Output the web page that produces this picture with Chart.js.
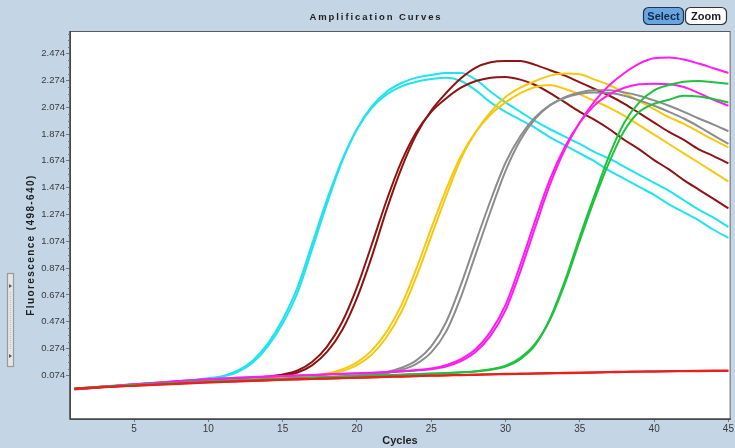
<!DOCTYPE html>
<html>
<head>
<meta charset="utf-8">
<script src="https://cdn.jsdelivr.net/npm/chart.js@4.4.1/dist/chart.umd.min.js"></script>
<style>
  html, body { margin: 0; padding: 0; background: #c4d5e6; }
  canvas { display: block; }
</style>
</head>
<body>
<canvas id="amp" width="735" height="448"></canvas>
<script>
// cycle numbers and axis ticks
var cycles = [1,2,3,4,5,6,7,8,9,10,11,12,13,14,15,16,17,18,19,20,21,22,23,24,25,
  26,27,28,29,30,31,32,33,34,35,36,37,38,39,40,41,42,43,44,45];
var xTickValues = [5,10,15,20,25,30,35,40,45];
var yTickValues = [0.074,0.274,0.474,0.674,0.874,1.074,1.274,1.474,1.674,1.874,2.074,2.274,2.474];
var yTickLabels = ['0.074','0.274','0.474','0.674','0.874','1.074','1.274','1.474','1.674','1.874','2.074','2.274','2.474'];

// fluorescence per cycle, two replicates per sample
var cyanA = [-0.025,-0.017,-0.009,-0.002,0.005,0.012,0.020,0.028,0.037,0.048,
  0.065,0.100,0.170,0.290,0.460,0.690,1.020,1.360,1.670,1.910,
  2.080,2.190,2.255,2.295,2.315,2.330,2.330,2.280,2.190,2.110,
  2.040,1.970,1.910,1.855,1.800,1.740,1.690,1.630,1.570,1.510,
  1.450,1.380,1.310,1.250,1.180];
var cyanB = [-0.025,-0.016,-0.008,0.000,0.007,0.014,0.022,0.030,0.040,0.052,
  0.070,0.110,0.185,0.310,0.490,0.730,1.060,1.390,1.680,1.910,
  2.070,2.170,2.230,2.265,2.285,2.295,2.270,2.200,2.110,2.040,
  1.980,1.920,1.850,1.790,1.730,1.670,1.600,1.540,1.480,1.420,
  1.350,1.290,1.230,1.160,1.100];
var maroonA = [-0.028,-0.020,-0.012,-0.005,0.002,0.008,0.014,0.020,0.026,0.032,
  0.038,0.044,0.051,0.060,0.072,0.095,0.150,0.250,0.410,0.650,
  0.960,1.310,1.620,1.870,2.050,2.180,2.290,2.370,2.410,2.420,
  2.420,2.390,2.350,2.310,2.260,2.210,2.160,2.100,2.030,1.960,
  1.890,1.830,1.760,1.710,1.655];
var maroonB = [-0.026,-0.018,-0.010,-0.003,0.004,0.010,0.016,0.022,0.028,0.034,
  0.040,0.047,0.055,0.065,0.080,0.110,0.175,0.290,0.470,0.730,
  1.050,1.380,1.670,1.890,2.040,2.140,2.220,2.270,2.295,2.300,
  2.280,2.240,2.180,2.110,2.040,1.980,1.910,1.830,1.760,1.680,
  1.610,1.530,1.460,1.390,1.320];
var goldA = [-0.025,-0.018,-0.011,-0.004,0.002,0.008,0.013,0.018,0.023,0.028,
  0.033,0.038,0.043,0.048,0.054,0.060,0.068,0.080,0.105,0.150,
  0.230,0.360,0.550,0.810,1.110,1.410,1.690,1.890,2.040,2.150,
  2.220,2.270,2.310,2.325,2.320,2.280,2.240,2.180,2.120,2.060,
  2.000,1.950,1.890,1.830,1.775];
var goldB = [-0.024,-0.017,-0.010,-0.003,0.003,0.009,0.014,0.019,0.024,0.029,
  0.034,0.039,0.044,0.050,0.056,0.063,0.072,0.088,0.118,0.170,
  0.260,0.400,0.600,0.870,1.170,1.460,1.710,1.890,2.020,2.110,
  2.180,2.225,2.240,2.210,2.170,2.120,2.070,2.010,1.940,1.870,
  1.800,1.730,1.660,1.590,1.520];
var grayA = [-0.026,-0.019,-0.012,-0.005,0.001,0.007,0.012,0.017,0.022,0.027,
  0.032,0.036,0.040,0.044,0.048,0.052,0.056,0.060,0.065,0.070,
  0.077,0.090,0.115,0.160,0.245,0.400,0.660,0.980,1.300,1.600,
  1.830,1.990,2.090,2.150,2.185,2.200,2.200,2.185,2.160,2.125,
  2.085,2.040,1.990,1.945,1.895];
var grayB = [-0.025,-0.018,-0.011,-0.004,0.002,0.008,0.013,0.018,0.023,0.028,
  0.033,0.037,0.041,0.045,0.049,0.053,0.057,0.062,0.067,0.073,
  0.082,0.098,0.130,0.185,0.290,0.470,0.750,1.070,1.380,1.660,
  1.860,2.000,2.090,2.145,2.175,2.185,2.180,2.160,2.125,2.085,
  2.040,1.990,1.930,1.865,1.800];
var magentaA = [-0.032,-0.022,-0.012,-0.003,0.006,0.014,0.022,0.030,0.037,0.044,
  0.050,0.055,0.060,0.064,0.068,0.072,0.076,0.080,0.084,0.088,
  0.092,0.097,0.103,0.110,0.120,0.140,0.180,0.250,0.370,0.560,
  0.850,1.180,1.500,1.760,1.960,2.120,2.240,2.330,2.400,2.440,
  2.445,2.430,2.400,2.365,2.330];
var magentaB = [-0.030,-0.021,-0.011,-0.002,0.007,0.015,0.023,0.031,0.038,0.045,
  0.051,0.056,0.061,0.065,0.069,0.073,0.077,0.081,0.085,0.089,
  0.093,0.098,0.105,0.113,0.125,0.150,0.195,0.270,0.400,0.600,
  0.900,1.230,1.540,1.780,1.960,2.090,2.170,2.220,2.245,2.250,
  2.245,2.225,2.180,2.130,2.085];
var greenA = [-0.027,-0.020,-0.013,-0.006,0.000,0.006,0.011,0.016,0.021,0.026,
  0.030,0.034,0.038,0.042,0.046,0.050,0.054,0.058,0.062,0.066,
  0.070,0.074,0.078,0.082,0.086,0.090,0.095,0.102,0.115,0.140,
  0.195,0.300,0.500,0.780,1.110,1.420,1.720,1.960,2.110,2.200,
  2.240,2.265,2.270,2.260,2.250];
var greenB = [-0.026,-0.019,-0.012,-0.005,0.001,0.007,0.012,0.017,0.022,0.027,
  0.031,0.035,0.039,0.043,0.047,0.051,0.055,0.059,0.063,0.067,
  0.071,0.075,0.079,0.083,0.087,0.091,0.097,0.105,0.120,0.145,
  0.205,0.310,0.490,0.760,1.080,1.390,1.670,1.900,2.040,2.100,
  2.130,2.160,2.155,2.135,2.110];
var redA = [-0.028,-0.022,-0.016,-0.010,-0.005,0.000,0.005,0.010,0.015,0.020,
  0.024,0.028,0.032,0.036,0.040,0.043,0.046,0.049,0.052,0.055,
  0.058,0.061,0.064,0.067,0.070,0.072,0.075,0.077,0.080,0.082,
  0.084,0.086,0.088,0.090,0.092,0.094,0.096,0.098,0.100,0.101,
  0.103,0.104,0.105,0.106,0.107];
var redB = [-0.025,-0.019,-0.013,-0.008,-0.003,0.002,0.007,0.012,0.017,0.022,
  0.026,0.030,0.034,0.038,0.041,0.044,0.047,0.050,0.053,0.056,
  0.060,0.063,0.066,0.069,0.072,0.075,0.077,0.080,0.082,0.085,
  0.087,0.089,0.091,0.093,0.095,0.097,0.099,0.101,0.103,0.104,
  0.106,0.107,0.108,0.109,0.110];

var series = [
  [redA, '#e8211c'], [redB, '#e8211c'],
  [greenA, '#1fc23c'], [greenB, '#1fc23c'],
  [magentaA, '#ff1cf0'], [magentaB, '#ff1cf0'],
  [grayA, '#8c8c8c'], [grayB, '#8c8c8c'],
  [goldA, '#f7c80f'], [goldB, '#f7c80f'],
  [maroonA, '#8e1412'], [maroonB, '#8e1412'],
  [cyanA, '#1fe3ee'], [cyanB, '#1fe3ee']
];

var toPoints = function(values){
  return values.map(function(v, i){ return { x: cycles[i], y: v }; });
};

var datasets = series.map(function(s){
  return {
    data: toPoints(s[0]), borderColor: s[1], borderWidth: 2,
    pointRadius: 0, fill: false, cubicInterpolationMode: 'monotone'
  };
});

var roundRect = function(ctx, x, y, w, h, r){
  ctx.beginPath();
  ctx.moveTo(x + r, y);
  ctx.arcTo(x + w, y, x + w, y + h, r);
  ctx.arcTo(x + w, y + h, x, y + h, r);
  ctx.arcTo(x, y + h, x, y, r);
  ctx.arcTo(x, y, x + w, y, r);
  ctx.closePath();
};

var frame = {
  id: 'frame',
  beforeDraw: function(chart){
    var ctx = chart.ctx, a = chart.chartArea;
    ctx.save();
    ctx.fillStyle = '#c4d5e6';
    ctx.fillRect(0, 0, chart.width, chart.height);
    ctx.fillStyle = '#ffffff';
    ctx.fillRect(a.left, a.top, a.right - a.left, a.bottom - a.top);
    ctx.restore();
  },
  afterDraw: function(chart){
    var ctx = chart.ctx, a = chart.chartArea;
    var ys = chart.scales.y;
    ctx.save();
    // plot border
    ctx.strokeStyle = '#5a5a5a';
    ctx.lineWidth = 1;
    ctx.strokeRect(a.left + 0.5, a.top + 0.5, a.right - a.left - 1, a.bottom - a.top);
    ctx.strokeStyle = '#444';
    ctx.lineWidth = 1.5;
    ctx.beginPath();
    ctx.moveTo(a.left, a.top); ctx.lineTo(a.left, a.bottom); ctx.lineTo(a.right, a.bottom);
    ctx.stroke();

    // minor ticks on the y axis
    ctx.strokeStyle = '#777';
    ctx.lineWidth = 1;
    for (var i = 0; i < yTickValues.length; i++) {
      for (var k = 1; k < 4; k++) {
        var py = ys.getPixelForValue(yTickValues[i] + k * 0.05);
        if (py < a.top) continue;
        ctx.beginPath();
        ctx.moveTo(a.left - 2, Math.round(py) + 0.5);
        ctx.lineTo(a.left, Math.round(py) + 0.5);
        ctx.stroke();
      }
    }

    // title
    ctx.fillStyle = '#1e1e1e';
    ctx.font = 'bold 9.5px "Liberation Sans", Arial, sans-serif';
    ctx.letterSpacing = '1.9px';
    ctx.textAlign = 'center';
    ctx.textBaseline = 'middle';
    ctx.fillText('Amplification Curves', 376, 17);

    // y axis title
    ctx.save();
    ctx.translate(31, 245);
    ctx.rotate(-Math.PI / 2);
    ctx.font = 'bold 10px "Liberation Sans", Arial, sans-serif';
    ctx.letterSpacing = '1.4px';
    ctx.fillStyle = '#1e1e1e';
    ctx.fillText('Fluorescence (498-640)', 0, 0);
    ctx.restore();
    ctx.letterSpacing = '0px';

    // x axis title
    ctx.font = 'bold 11px "Liberation Sans Narrow", "Liberation Sans", Arial, sans-serif';
    ctx.fillStyle = '#1e1e1e';
    ctx.fillText('Cycles', 400, 441);

    // buttons
    roundRect(ctx, 643.5, 7.5, 40, 17, 5);
    ctx.fillStyle = '#6aa6dd';
    ctx.fill();
    ctx.strokeStyle = '#1c3558';
    ctx.lineWidth = 1.2;
    ctx.stroke();
    roundRect(ctx, 685.5, 7.5, 41, 17, 5);
    ctx.fillStyle = '#ffffff';
    ctx.fill();
    ctx.strokeStyle = '#333';
    ctx.stroke();
    ctx.font = 'bold 11px "Liberation Sans Narrow", "Liberation Sans", Arial, sans-serif';
    ctx.fillStyle = '#102a52';
    ctx.fillText('Select', 663.5, 16.5);
    ctx.fillStyle = '#1e1e1e';
    ctx.fillText('Zoom', 706, 16.5);

    // little slider on the left edge
    ctx.fillStyle = '#e4e6ea';
    ctx.fillRect(7, 273, 7, 94);
    ctx.strokeStyle = '#9a9a9a';
    ctx.strokeRect(7.5, 273.5, 6, 93);
    ctx.strokeStyle = '#c0c0c0';
    ctx.setLineDash([1, 1]);
    ctx.beginPath();
    ctx.moveTo(10.5, 292); ctx.lineTo(10.5, 350);
    ctx.stroke();
    ctx.setLineDash([]);
    ctx.fillStyle = '#555';
    [286, 356].forEach(function(ty){
      ctx.beginPath();
      ctx.moveTo(9, ty - 2); ctx.lineTo(12, ty); ctx.lineTo(9, ty + 2);
      ctx.closePath();
      ctx.fill();
    });
    ctx.restore();
  }
};

new Chart(document.getElementById('amp'), {
  type: 'line',
  data: { datasets: datasets },
  options: {
    responsive: false, animation: false,
    layout: { padding: { top: 31, right: 4, left: 0, bottom: 0 } },
    plugins: { legend: { display: false }, tooltip: { enabled: false } },
    scales: {
      x: {
        type: 'linear', min: 0.69, max: 45.15,
        afterFit: function(s){ s.height = 29; },
        afterBuildTicks: function(s){ s.ticks = xTickValues.map(function(v){ return { value: v }; }); },
        grid: { drawOnChartArea: false, tickLength: 3, color: '#777' },
        border: { display: false },
        ticks: {
          padding: 1, maxRotation: 0, autoSkip: false,
          color: '#3a3a3a', font: { family: '"Liberation Sans", Arial, sans-serif', size: 10 },
          callback: function(v){ return String(v); }
        }
      },
      y: {
        type: 'linear', min: -0.252, max: 2.643,
        afterFit: function(s){ s.width = 70; },
        afterBuildTicks: function(s){ s.ticks = yTickValues.map(function(v){ return { value: v }; }); },
        grid: { drawOnChartArea: false, tickLength: 4, color: '#777' },
        border: { display: false },
        ticks: {
          padding: 1, autoSkip: false,
          color: '#3a3a3a', font: { family: '"Liberation Sans", Arial, sans-serif', size: 9.5 },
          callback: function(v, i){ return yTickLabels[i]; }
        }
      }
    }
  },
  plugins: [frame]
});
</script>
</body>
</html>
